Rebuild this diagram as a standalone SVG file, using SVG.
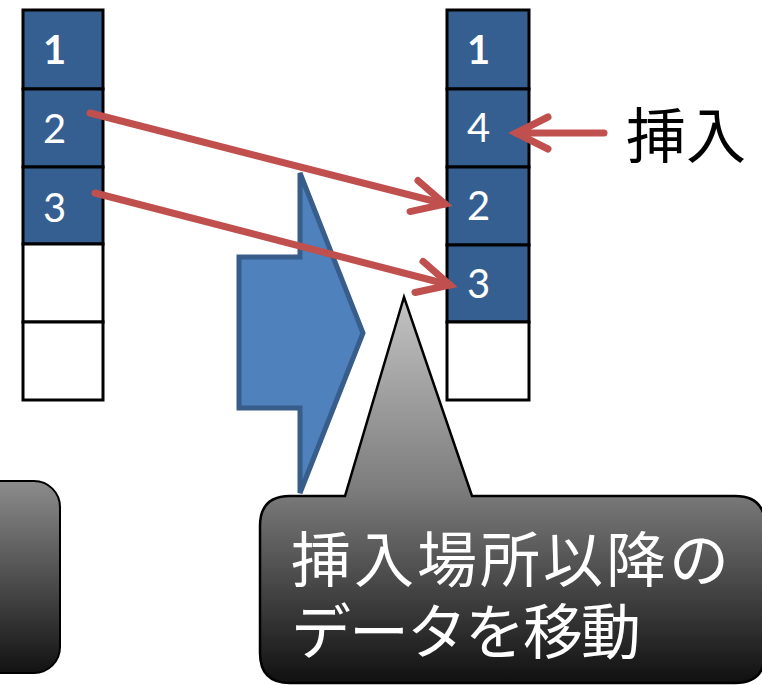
<svg xmlns="http://www.w3.org/2000/svg" width="762" height="685" viewBox="0 0 762 685">
<style>
.cell{fill:#365F91;stroke:#000;stroke-width:3}
.empty{fill:#fff;stroke:#000;stroke-width:3}
.num{font-family:Lato,"Liberation Sans",sans-serif;font-size:40px;fill:#fff}
.b{font-weight:bold}
.red{stroke:#C0504D;stroke-width:7;stroke-linecap:round;fill:none}
.wt{font-family:"Noto Sans CJK JP",sans-serif;font-size:60px;fill:#fff}
</style>
<defs>
<marker id="ah" markerUnits="userSpaceOnUse" markerWidth="60" markerHeight="50" viewBox="-45 -25 60 50" refX="0" refY="0" orient="auto" overflow="visible">
<path d="M-32,-16 L0,0 L-32,16" fill="none" stroke="#C0504D" stroke-width="7" stroke-linecap="round" stroke-linejoin="miter"/>
</marker>
<linearGradient id="g1" x1="0" y1="297" x2="0" y2="683" gradientUnits="userSpaceOnUse">
<stop offset="0" stop-color="#c4c4c4"/>
<stop offset="0.5" stop-color="#7c7c7c"/>
<stop offset="1" stop-color="#101010"/>
</linearGradient>
<linearGradient id="g2" x1="0" y1="481" x2="0" y2="673" gradientUnits="userSpaceOnUse">
<stop offset="0" stop-color="#8c8c8c"/>
<stop offset="1" stop-color="#121212"/>
</linearGradient>
</defs>

<g id="left-box">
<rect x="-40" y="481" width="100" height="192" rx="26" fill="url(#g2)" stroke="#000" stroke-width="2"/>
</g>

<g id="left-column">
<rect class="cell" x="23" y="10" width="80" height="79"/>
<rect class="cell" x="23" y="89" width="80" height="78"/>
<rect class="cell" x="23" y="167" width="80" height="77"/>
<rect class="empty" x="23" y="244" width="80" height="78"/>
<rect class="empty" x="23" y="322" width="80" height="78"/>
<text class="num b" x="43" y="64">1</text>
<text class="num" x="43" y="143">2</text>
<text class="num" x="43" y="222">3</text>
</g>

<g id="big-arrow">
<polygon points="239,257 300,257 300,173 363,333 300,493 300,408 239,408" fill="#4F81BD" stroke="#385D8A" stroke-width="5" stroke-linejoin="miter"/>
</g>

<g id="right-column">
<rect class="cell" x="447" y="10" width="82" height="79"/>
<rect class="cell" x="447" y="89" width="82" height="78"/>
<rect class="cell" x="447" y="167" width="82" height="78"/>
<rect class="cell" x="447" y="245" width="82" height="77"/>
<rect class="empty" x="447" y="322" width="82" height="78"/>
<text class="num b" x="467" y="64">1</text>
<text class="num" x="467" y="142">4</text>
<text class="num" x="467" y="220">2</text>
<text class="num" x="467" y="298">3</text>
</g>

<g id="insert-label">
<text x="626" y="158" font-family="'Noto Sans CJK JP',sans-serif" font-size="60" fill="#000">挿入</text>
</g>

<g id="connectors">
<line class="red" x1="90" y1="113" x2="445" y2="204" marker-end="url(#ah)"/>
<line class="red" x1="95" y1="193" x2="450" y2="285" marker-end="url(#ah)"/>
<line class="red" x1="604" y1="133" x2="516" y2="133" marker-end="url(#ah)"/>
</g>

<g id="callout">
<path d="M290,496 L345,496 L404,297 L472,496 L735,496 Q765,496 765,526 L765,653 Q765,683 735,683 L290,683 Q260,683 260,653 L260,526 Q260,496 290,496 Z" fill="url(#g1)" stroke="#000" stroke-width="2.5" stroke-linejoin="miter"/>
<text class="wt" x="291" y="582" letter-spacing="3">挿入場所以降の</text>
<text class="wt" x="291" y="654" letter-spacing="-2">データを移動</text>
</g>
</svg>
